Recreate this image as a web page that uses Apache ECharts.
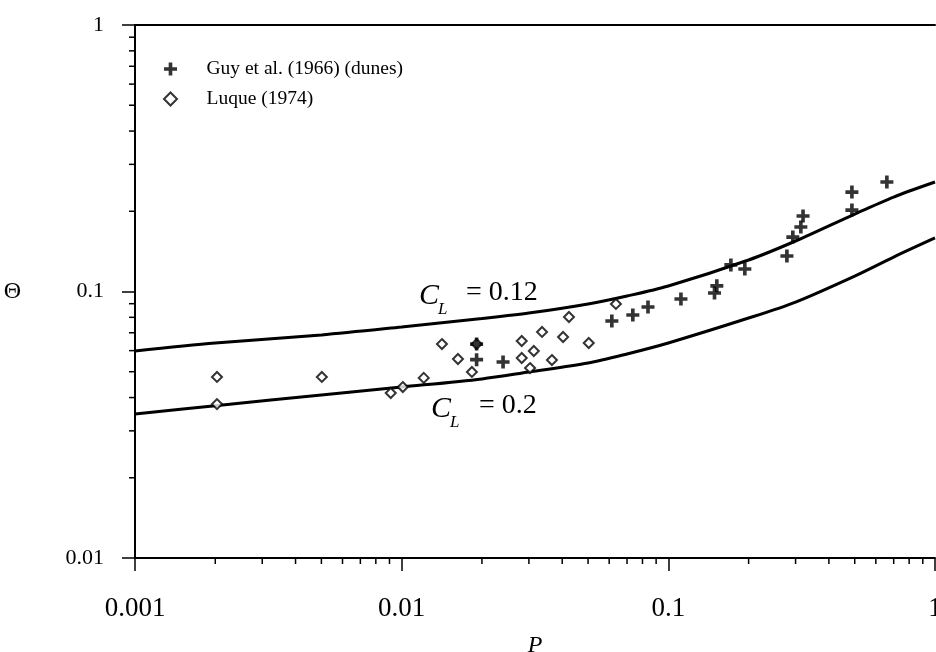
<!DOCTYPE html>
<html>
<head>
<meta charset="utf-8">
<script src="https://cdn.jsdelivr.net/npm/echarts@6/dist/echarts.min.js"></script>
<style>html,body{margin:0;padding:0;background:#fff;}#c{width:936px;height:652px;}</style>
</head>
<body>
<div id="c"></div>
<script>
// ---- data ----
const guyP     = [0.0191, 0.0191, 0.024, 0.0614, 0.0736, 0.0839, 0.1115, 0.149, 0.152, 0.1716, 0.1936, 0.2784, 0.293, 0.314, 0.32, 0.488, 0.488, 0.66];
const guyTheta = [0.0635, 0.0555, 0.0544, 0.0775, 0.0816, 0.0875, 0.0937, 0.0987, 0.105, 0.1258, 0.1215, 0.1359, 0.160, 0.1746, 0.192, 0.202, 0.236, 0.2575];

const luqueP     = [0.00203, 0.00203, 0.00502, 0.0091, 0.0101, 0.0121, 0.01416, 0.01626, 0.0191, 0.01834, 0.0282, 0.0282, 0.0313, 0.0303, 0.0336, 0.0366, 0.0403, 0.0424, 0.0503, 0.0636];
const luqueTheta = [0.0478, 0.0378, 0.0478, 0.0416, 0.0438, 0.0474, 0.0635, 0.0558, 0.0635, 0.0499, 0.0652, 0.0563, 0.0598, 0.0516, 0.0705, 0.0553, 0.0675, 0.0802, 0.0641, 0.0898];

const curveP = [0.001, 0.002, 0.005, 0.01, 0.02, 0.03, 0.05, 0.07, 0.1, 0.2, 0.3, 0.5, 0.7, 1];
const upperT = [0.0598, 0.0641, 0.0687, 0.0736, 0.0792, 0.0830, 0.0898, 0.0962, 0.1049, 0.1313, 0.1547, 0.1953, 0.2262, 0.2575];
const lowerT = [0.0347, 0.0373, 0.0409, 0.0438, 0.0470, 0.0499, 0.0539, 0.0583, 0.0641, 0.0795, 0.0913, 0.1143, 0.1347, 0.1588];

const xMinorTicks = [0.002,0.003,0.004,0.005,0.006,0.007,0.008,0.009,
                     0.02,0.03,0.04,0.05,0.06,0.07,0.08,0.09,
                     0.2,0.3,0.4,0.5,0.6,0.7,0.8,0.9];
const yMinorTicks = [0.02,0.03,0.04,0.05,0.06,0.07,0.08,0.09,
                     0.2,0.3,0.4,0.5,0.6,0.7,0.8,0.9];

const seriesNames = ['Guy et al. (1966) (dunes)', 'Luque (1974)'];

// ---- chart ----
const FONT = '"Liberation Serif", "DejaVu Serif", serif';
const zip = (a, b) => a.map((v, i) => [v, b[i]]);
const plusPath = 'path://M3.6,0H6.4V3.6H10V6.4H6.4V10H3.6V6.4H0V3.6H3.6Z';
const diamondPath = 'path://M5,0L10,5L5,10L0,5Z';

const chart = echarts.init(document.getElementById('c'), null, {renderer: 'canvas'});

function tickItem(dir) {
  return function (params, api) {
    const p = api.coord([api.value(0), api.value(1)]);
    const len = 6;
    const shape = dir === 'x'
      ? {x1: p[0], y1: p[1], x2: p[0], y2: p[1] + len}
      : {x1: p[0] - len, y1: p[1], x2: p[0], y2: p[1]};
    return {type: 'line', shape: shape, style: {stroke: '#000', lineWidth: 1.5}};
  };
}

const option = {
  backgroundColor: '#fff',
  animation: false,
  grid: {left: 135, right: 1, top: 25, bottom: 94, containLabel: false, outerBoundsMode: 'none'},
  legend: {
    orient: 'vertical',
    left: 158, top: 54,
    itemWidth: 14, itemHeight: 13, itemGap: 10,
    data: seriesNames,
    textStyle: {fontFamily: FONT, fontSize: 19.5, color: '#000', lineHeight: 20, padding: [0, 0, 0, 24]}
  },
  xAxis: [{
    type: 'log', logBase: 10, min: 0.001, max: 1,
    name: 'P', nameLocation: 'middle', nameGap: 76,
    nameTextStyle: {fontFamily: FONT, fontSize: 24, fontStyle: 'italic', color: '#000'},
    axisLine: {show: true, onZero: false, lineStyle: {color: '#000', width: 2}},
    axisTick: {show: true, length: 13, lineStyle: {color: '#000', width: 1.5}},
    minorTick: {show: false},
    splitLine: {show: false},
    axisLabel: {margin: 37, fontFamily: FONT, fontSize: 27, color: '#000',
      formatter: v => String(+v.toPrecision(3))}
  }, {
    type: 'log', logBase: 10, min: 0.001, max: 1, position: 'top',
    axisLine: {show: true, onZero: false, lineStyle: {color: '#000', width: 2}},
    axisTick: {show: false}, axisLabel: {show: false}, splitLine: {show: false}
  }],
  yAxis: {
    type: 'log', logBase: 10, min: 0.01, max: 1,
    name: 'Θ', nameLocation: 'middle', nameGap: 114, nameRotate: 0,
    nameTextStyle: {fontFamily: FONT, fontSize: 24, color: '#000'},
    axisLine: {show: true, onZero: false, lineStyle: {color: '#000', width: 2}},
    axisTick: {show: true, length: 13, lineStyle: {color: '#000', width: 1.5}},
    splitLine: {show: false},
    axisLabel: {margin: 31, fontFamily: FONT, fontSize: 22, color: '#000',
      formatter: v => String(+v.toPrecision(3))}
  },
  series: [
    {
      name: 'C_L = 0.12', type: 'line', data: zip(curveP, upperT),
      smooth: 0.3, showSymbol: false, symbol: 'none',
      lineStyle: {color: '#000', width: 3}, z: 2
    },
    {
      name: 'C_L = 0.2', type: 'line', data: zip(curveP, lowerT),
      smooth: 0.3, showSymbol: false, symbol: 'none',
      lineStyle: {color: '#000', width: 3}, z: 2
    },
    {
      name: seriesNames[0], type: 'scatter', data: zip(guyP, guyTheta),
      symbol: plusPath, symbolSize: 13,
      itemStyle: {color: '#000'}, z: 4
    },
    {
      name: seriesNames[1], type: 'scatter', data: zip(luqueP, luqueTheta),
      symbol: diamondPath, symbolSize: 10,
      itemStyle: {color: '#fff', borderColor: '#000', borderWidth: 2}, z: 3
    },
    {
      type: 'custom', renderItem: tickItem('x'), clip: false, silent: true,
      data: xMinorTicks.map(v => [v, 0.01]), z: 5
    },
    {
      type: 'custom', renderItem: tickItem('y'), clip: false, silent: true,
      data: yMinorTicks.map(v => [0.001, v]), z: 5
    }
  ],
  graphic: [
    {type: 'text', x: 419, y: 296, style: {text: 'C', font: 'italic 30px ' + FONT, fill: '#000', verticalAlign: 'middle'}},
    {type: 'text', x: 438, y: 310, style: {text: 'L', font: 'italic 17px ' + FONT, fill: '#000', verticalAlign: 'middle'}},
    {type: 'text', x: 466, y: 293, style: {text: '= 0.12', font: '28px ' + FONT, fill: '#000', verticalAlign: 'middle'}},
    {type: 'text', x: 431, y: 409, style: {text: 'C', font: 'italic 30px ' + FONT, fill: '#000', verticalAlign: 'middle'}},
    {type: 'text', x: 450, y: 423, style: {text: 'L', font: 'italic 17px ' + FONT, fill: '#000', verticalAlign: 'middle'}},
    {type: 'text', x: 479, y: 406, style: {text: '= 0.2', font: '28px ' + FONT, fill: '#000', verticalAlign: 'middle'}}
  ]
};

chart.setOption(option);
</script>
</body>
</html>
